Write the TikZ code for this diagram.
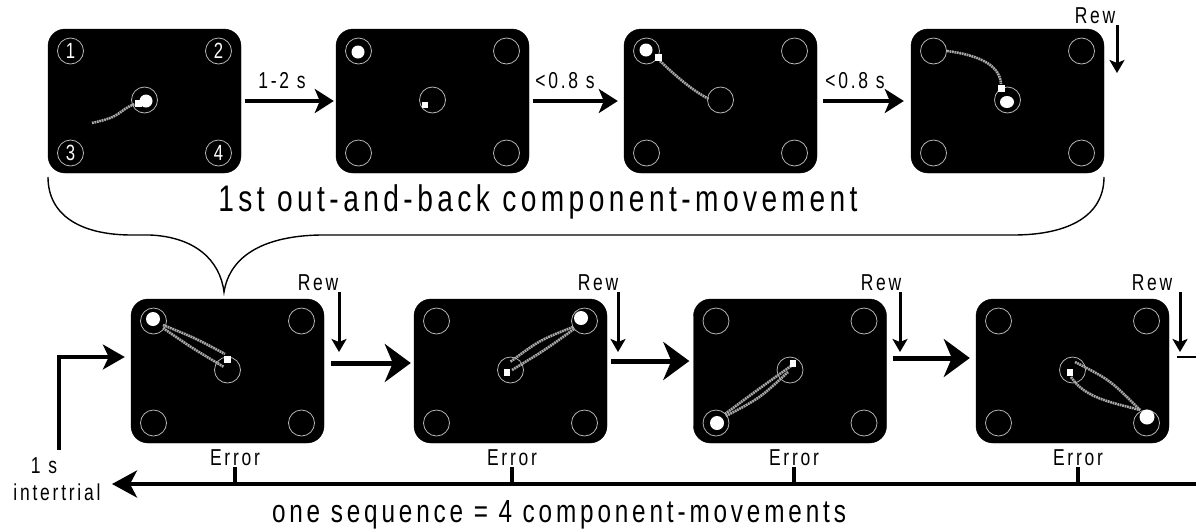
\documentclass[tikz,border=0pt]{standalone}
\usepackage{fontspec}
\setmainfont{Liberation Sans}[FakeStretch=0.76, LetterSpace=12]
\usetikzlibrary{arrows.meta,calc}
\definecolor{ringgray}{HTML}{B4B4B4}
\definecolor{trajgray}{HTML}{A8A8A8}
\newcommand\panelat[3]{%
  \node[panel] (#1) at (#2,#3) {};
  \foreach \n/\dx/\dy in {1/-74/-50, 2/74/-50, 3/-74/52, 4/74/52, c/0/-1}
    {\node[ring] (#1-\n) at ($(#1)+(\dx,\dy)$) {};}
}
\begin{document}
\begin{tikzpicture}[x=1pt,y=-1pt,
  panel/.style={fill=black, draw=black, rounded corners=17pt, minimum width=193pt, minimum height=144pt, inner sep=0pt},
  ring/.style={circle, draw=ringgray, line width=0.8pt, minimum size=26pt, inner sep=0pt},
  numtxt/.style={text=white, font=\fontsize{22}{22}\selectfont},
  dot/.style={fill=white},
  traj/.style={draw=trajgray, line width=2.6pt, dash pattern=on 1.8pt off 0.7pt},
  lab/.style={font=\fontsize{23}{23}\selectfont, inner sep=0pt, anchor=base},
  big/.style={font=\fontsize{37}{37}\selectfont, inner sep=0pt, anchor=base},
  toparr/.style={line width=4pt, -{Stealth[length=19pt,width=24pt,inset=5pt]}},
  botarr/.style={line width=5pt, -{Stealth[length=26pt,width=38pt,inset=8pt]}},
  rewarr/.style={line width=3pt, -{Stealth[length=13pt,width=15pt,inset=3pt]}},
  entarr/.style={line width=3.2pt, -{Stealth[length=22pt,width=25pt,inset=6pt]}},
  errarr/.style={line width=4pt, -{Stealth[length=25pt,width=27pt,inset=7pt]}},
  tick/.style={line width=4pt},
]
\useasboundingbox (0,0) rectangle (1196,531);

% ---------- top row panels ----------
\panelat{P1}{144.5}{101}
\panelat{P2}{432.5}{101}
\panelat{P3}{720.5}{101}
\panelat{P4}{1007.5}{101}

\node[numtxt] at (P1-1) {1};
\node[numtxt] at (P1-2) {2};
\node[numtxt] at (P1-3) {3};
\node[numtxt] at (P1-4) {4};

% P1 content
\draw[traj] (92,123) .. controls (105,120) and (112,118) .. (118,114) .. controls (124,110) and (128,106) .. (135,104);
\fill[dot] (146,101) circle (6.5);
\fill[dot] (134.5,99.5) rectangle (141.5,106.5);
% P2 content
\fill[dot] (358,52) circle (6.5);
\fill[dot] (422,102) rectangle (428,108);
% P3 content
\draw[traj] (660,61) .. controls (680,80) and (695,92) .. (709,99);
\fill[dot] (646,50) circle (6.5);
\fill[dot] (654.5,53.5) rectangle (661.5,60.5);
% P4 content
\draw[traj] (947,51) .. controls (985,56) and (1000,68) .. (1001,84);
\fill[dot] (997.5,84.5) rectangle (1004.5,91.5);
\fill[dot] (1007,102) ellipse (7 and 6);

% top arrows
\draw[toparr] ([xshift=4pt]P1.east) -- ([xshift=-2pt]P2.west);
\draw[toparr] ([xshift=4pt]P2.east) -- ([xshift=-6pt]P3.west);
\draw[toparr] ([xshift=6pt]P3.east) -- ([xshift=-7pt]P4.west);
\node[lab] (t12) at (282,88) {1-2 s};
\node[lab] (t08a) at (565,88) {<0.8 s};
\node[lab] (t08b) at (855,88) {<0.8 s};

% top Rew
\node[lab] (rw0) at (1095,23) {Rew};
\coordinate (rw0a) at (1117,25);
\coordinate (rw0b) at (1117,73);
\draw[rewarr] (rw0a) -- (rw0b);

% brace
\draw[line width=1.4pt] (48,177) .. controls (48,215) and (80,235) .. (132,235) -- (150,235)
  .. controls (195,237) and (220,260) .. (224,292)
  .. controls (230,255) and (265,236) .. (320,235) -- (1013,235)
  .. controls (1070,235) and (1104,215) .. (1104,177);
\node[big] (title1) at (538,211) {1st out-and-back component-movement};

% ---------- bottom row panels ----------
\panelat{B1}{227.5}{371}
\panelat{B2}{510.5}{371}
\panelat{B3}{790}{371}
\panelat{B4}{1072.5}{371}

% B1
\draw[traj] (163,325) .. controls (195,338) .. (225,354);
\draw[traj] (163,328) .. controls (192,348) .. (224,367);
\fill[dot] (153,319) circle (7);
\fill[dot] (223.5,355.5) rectangle (230.5,362.5);
% B2
\draw[traj] (573,327) .. controls (540,340) .. (510,362);
\draw[traj] (574,329) .. controls (545,350) .. (512,370);
\fill[dot] (581,318) circle (7);
\fill[dot] (504,368.5) rectangle (510,375.5);
% B3
\draw[traj] (725,414) .. controls (760,388) .. (791,366);
\draw[traj] (726,416) .. controls (760,398) .. (788,372);
\fill[dot] (717,423) circle (7);
\fill[dot] (790,359.5) rectangle (796,366.5);
% B4
\draw[traj] (1075,362) .. controls (1110,380) .. (1140,410);
\draw[traj] (1071,377) .. controls (1085,398) and (1110,402) .. (1140,410);
\fill[dot] (1147,417) circle (7.5);
\fill[dot] (1067,368.5) rectangle (1073,375.5);

% bottom arrows
\draw[botarr] ([xshift=7pt,yshift=8pt]B1.east) -- ([xshift=-3pt,yshift=8pt]B2.west);
\draw[botarr] ([xshift=4pt,yshift=10pt]B2.east) -- ([xshift=-4pt,yshift=10pt]B3.west);
\draw[botarr] ([xshift=6pt,yshift=13pt]B3.east) -- ([xshift=-6pt,yshift=13pt]B4.west);
\coordinate (outR) at (1196,357);
\draw[line width=2pt] ([xshift=8pt,yshift=14pt]B4.east) -- (outR);

% Rew labels and arrows
\foreach \i/\tx/\ax in {1/318/339, 2/598/618, 3/881/900, 4/1152/1180}{
  \node[lab] (rw\i) at (\tx,290) {Rew};
  \coordinate (rw\i a) at (\ax,292);
  \coordinate (rw\i b) at (\ax,352);
  \draw[rewarr] (rw\i a) -- (rw\i b);
}

% error line
\coordinate (eR) at (1196,484);
\coordinate (eL) at (112,484);
\draw[errarr] (eR) -- (eL);
\foreach \i/\tx in {1/235, 2/512, 3/794, 4/1078}{
  \node[lab] (err\i) at (\tx,465) {Error};
  \coordinate (tk\i) at (\tx,467);
  \draw[tick] (tk\i) -- (tk\i |- eL);
}

% intertrial
\node[lab] (ones) at (44,473) {1 s};
\node[lab] (intert) at (57,500) {intertrial};
\coordinate (ent) at (59,450);
\draw[entarr] (ent) |- ([xshift=-6pt,yshift=14pt]B1.west);

\node[big, font=\fontsize{32}{32}\selectfont] (title2) at (559,522) {one sequence = 4 component-movements};
\end{tikzpicture}
\end{document}
